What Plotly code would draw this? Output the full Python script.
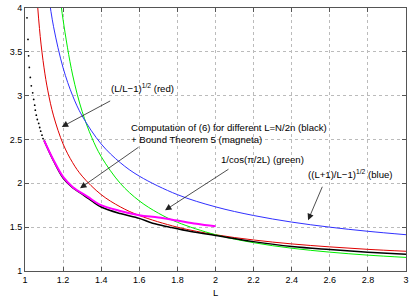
import plotly.graph_objects as go

# (L/L-1)^(1/2), red
red_L = [1.06, 1.08, 1.10, 1.12, 1.15, 1.20, 1.25, 1.30, 1.40, 1.50, 1.60, 1.80, 2.00, 2.20, 2.40, 2.60, 2.80, 3.00]
red_y = [4.20, 3.674, 3.317, 3.055, 2.769, 2.449, 2.236, 2.082, 1.871, 1.732, 1.633, 1.500, 1.414, 1.354, 1.309, 1.275, 1.247, 1.225]

# ((L+1)/L-1)^(1/2), blue
blue_L = [1.12, 1.15, 1.20, 1.25, 1.30, 1.40, 1.50, 1.60, 1.80, 2.00, 2.20, 2.40, 2.60, 2.80, 3.00]
blue_y = [4.203, 3.786, 3.317, 3.000, 2.769, 2.449, 2.236, 2.082, 1.871, 1.732, 1.633, 1.558, 1.500, 1.453, 1.414]

# 1/cos(pi/2L), green
green_L = [1.18, 1.20, 1.25, 1.30, 1.35, 1.40, 1.50, 1.60, 1.70, 1.80, 2.00, 2.20, 2.40, 2.60, 2.80, 3.00]
green_y = [4.21, 3.864, 3.236, 2.820, 2.525, 2.305, 2.000, 1.800, 1.660, 1.556, 1.414, 1.323, 1.260, 1.215, 1.181, 1.155]

# computation of (6), black: sparse points near L=1, then a line
dots_L = [1.0105, 1.0157, 1.019, 1.0226, 1.0278, 1.0331, 1.0404, 1.0457, 1.0509, 1.0541,
          1.0593, 1.0646, 1.0719, 1.0772, 1.0824, 1.0892, 1.0945]
dots_y = [3.888, 3.642, 3.454, 3.322, 3.208, 3.112, 3.032, 2.957, 2.892, 2.834,
          2.777, 2.728, 2.683, 2.637, 2.595, 2.549, 2.511]
black_L = [1.10, 1.15, 1.20, 1.25, 1.29, 1.35, 1.40, 1.50, 1.60, 1.67, 1.76, 1.87, 2.00, 2.20, 2.40, 2.60, 2.80, 3.00]
black_y = [2.49, 2.255, 2.06, 1.95, 1.89, 1.80, 1.73, 1.655, 1.60, 1.545, 1.50, 1.45, 1.405, 1.335, 1.28, 1.245, 1.215, 1.19]

# bound theorem 5, magenta
mag_L = [1.10, 1.15, 1.20, 1.25, 1.33, 1.39, 1.50, 1.60, 1.70, 1.80, 1.90, 2.00]
mag_y = [2.49, 2.264, 2.073, 1.959, 1.845, 1.761, 1.685, 1.636, 1.610, 1.575, 1.54, 1.51]

x_ticks = [1, 1.2, 1.4, 1.6, 1.8, 2, 2.2, 2.4, 2.6, 2.8, 3]
x_labels = ['1', '1.2', '1.4', '1.6', '1.8', '2', '2.2', '2.4', '2.6', '2.8', '3']
y_ticks = [1, 1.5, 2, 2.5, 3, 3.5, 4]
y_labels = ['1', '1.5', '2', '2.5', '3', '3.5', '4']

FONT = 'Liberation Sans, Arial'

fig = go.Figure()
fig.add_trace(go.Scatter(x=red_L, y=red_y, mode='lines', line=dict(color='#e00000', width=1, shape='spline')))
fig.add_trace(go.Scatter(x=green_L, y=green_y, mode='lines', line=dict(color='#00ee00', width=1, shape='spline')))
fig.add_trace(go.Scatter(x=blue_L, y=blue_y, mode='lines', line=dict(color='#3030ff', width=1, shape='spline')))
fig.add_trace(go.Scatter(x=black_L, y=black_y, mode='lines', line=dict(color='black', width=1.5, shape='spline')))
fig.add_trace(go.Scatter(x=dots_L, y=dots_y, mode='markers', marker=dict(color='black', size=1.8)))
fig.add_trace(go.Scatter(x=mag_L, y=mag_y, mode='lines', line=dict(color='#ff00ff', width=2, shape='spline')))

txt_font = dict(family=FONT, size=9.6, color='black')

# labels
labels = [
    (1.446, 3.086, '(L/L\u22121)<sup>1/2</sup> (red)'),
    (1.551, 2.564, 'Computation of (6) for different L=N/2n (black)<br>+ Bound Theorem 5 (magneta)'),
    (2.024, 2.272, '1/cos(\u03c0/2L) (green)'),
    (2.480, 2.104, '((L+1)/L\u22121)<sup>1/2</sup> (blue)'),
]
for lx, ly, t in labels:
    fig.add_annotation(x=lx, y=ly, text=t, showarrow=False, xanchor='left', yanchor='middle',
                       align='left', font=txt_font, borderpad=0)

# arrows: (tail x, tail y, head x, head y)
arrows = [
    (1.455, 2.949, 1.193, 2.644),
    (1.604, 2.424, 1.289, 1.944),
    (2.076, 2.172, 1.735, 1.693),
    (2.564, 1.978, 2.486, 1.579),
]
for tx, ty, hx, hy in arrows:
    fig.add_annotation(x=hx, y=hy, ax=tx, ay=ty, axref='x', ayref='y', text='',
                       showarrow=True, arrowhead=2, arrowsize=1.6, arrowwidth=0.8, arrowcolor='#222222')

# axis title as plain text under the axis
fig.add_annotation(x=0.5, y=0, xref='paper', yref='paper', yshift=-14, text='L', showarrow=False,
                   xanchor='center', yanchor='top', font=dict(family=FONT, size=9.4, color='black'))

axis_style = dict(
    showline=True, linecolor='#555555', linewidth=1, mirror='allticks',
    ticks='inside', ticklen=4, tickcolor='#555555',
    showgrid=True, gridcolor='#bbbbbb', griddash='dot', gridwidth=1,
    zeroline=False, automargin=False,
    tickfont=dict(family=FONT, size=9, color='black'),
)
fig.update_xaxes(range=[1, 3], tickvals=x_ticks, ticktext=x_labels, **axis_style)
fig.update_yaxes(range=[1, 4], tickvals=y_ticks, ticktext=y_labels, **axis_style)

fig.update_layout(
    width=415, height=298,
    margin=dict(l=25, r=9, t=8, b=27, autoexpand=False),
    plot_bgcolor='white', paper_bgcolor='white',
    showlegend=False,
)
# drop the page's default body margin so the figure sits at the window corner
fig.write_html("out.html", config={'displayModeBar': False},
               post_script="document.body.style.margin='0';document.body.style.overflow='hidden';")
